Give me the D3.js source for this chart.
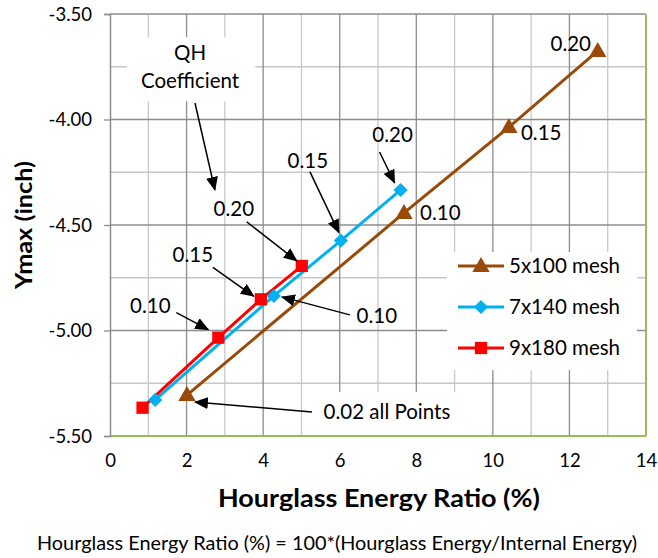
<!DOCTYPE html>
<html><head><meta charset="utf-8">
<script src="https://cdn.jsdelivr.net/npm/d3@7"></script>
<style>
body{margin:0;background:#fff}
svg text{font-family:Lato,"Open Sans",sans-serif;fill:#000}
</style>
</head><body>
<svg id="chart" width="658" height="558"></svg>
<script>
// ---- data ----
const coefficients = [0.02, 0.10, 0.15, 0.20];
const seriesNames = ["5x100 mesh", "7x140 mesh", "9x180 mesh"];
const x5x100 = [2.01, 7.68, 10.42, 12.74];
const y5x100 = [-5.306, -4.443, -4.036, -3.675];
const x7x140 = [1.18, 4.28, 6.03, 7.59];
const y7x140 = [-5.329, -4.836, -4.574, -4.334];
const x9x180 = [0.85, 2.83, 3.94, 5.01];
const y9x180 = [-5.366, -5.034, -4.852, -4.694];
const xTicks = [0, 2, 4, 6, 8, 10, 12, 14];
const yTicks = [-3.5, -4.0, -4.5, -5.0, -5.5];
const xTitle = "Hourglass Energy Ratio (%)";
const yTitle = "Ymax (inch)";
const note = "Hourglass Energy Ratio (%) = 100*(Hourglass Energy/Internal Energy)";

// ---- layout ----
const svg = d3.select("#chart");
const L = 110, R = 646, T = 14, B = 436;
const x = d3.scaleLinear().domain([0, 14]).range([L, R]);
const y = d3.scaleLinear().domain([-5.5, -3.5]).range([B, T]);
const colors = ["#9A4A08", "#00B0F0", "#FF0000"];
const shapes = [d3.symbolTriangle, d3.symbolSquare, d3.symbolSquare];
const sizes = [130, 100, 150];
const rot = [0, 45, 0];
const fmt = v => v.toFixed(2);

const series = seriesNames.map((n, i) => ({
  name: n, color: colors[i], shape: shapes[i], size: sizes[i], rot: rot[i],
  pts: [x5x100, x7x140, x9x180][i]
    .map((xv, j) => ({x: xv, y: [y5x100, y7x140, y9x180][i][j], c: coefficients[j]}))
}));

// gridlines
const g = svg.append("g");
g.selectAll(".vmin").data(d3.range(1, 14, 2)).join("line")
  .attr("x1", d => x(d)).attr("x2", d => x(d)).attr("y1", T).attr("y2", B)
  .attr("stroke", "#c8c8c8").attr("stroke-width", 1.3);
g.selectAll(".hmin").data(d3.range(-5.25, -3.5, 0.5)).join("line")
  .attr("y1", d => y(d)).attr("y2", d => y(d)).attr("x1", L).attr("x2", R)
  .attr("stroke", "#c8c8c8").attr("stroke-width", 1.3);
g.selectAll(".vmaj").data(xTicks.slice(1, -1)).join("line")
  .attr("x1", d => x(d)).attr("x2", d => x(d)).attr("y1", T).attr("y2", B)
  .attr("stroke", "#8c8c8c").attr("stroke-width", 1.3);
g.selectAll(".hmaj").data(yTicks.slice(0, -1)).join("line")
  .attr("y1", d => y(d)).attr("y2", d => y(d)).attr("x1", L).attr("x2", R)
  .attr("stroke", "#8c8c8c").attr("stroke-width", 1.3);
svg.append("line").attr("x1", R).attr("x2", R).attr("y1", T).attr("y2", B)
  .attr("stroke", "#9BBB59").attr("stroke-width", 2);
svg.append("line").attr("x1", L).attr("x2", R).attr("y1", B).attr("y2", B)
  .attr("stroke", "#9BBB59").attr("stroke-width", 2);

// y axis
const yAxis = svg.append("g").attr("transform", `translate(${L},0)`)
  .call(d3.axisLeft(y).tickValues(yTicks).tickFormat(fmt).tickSize(6).tickPadding(12));
yAxis.select(".domain").attr("stroke", "#8c8c8c").attr("stroke-width", 1.5);
yAxis.selectAll(".tick line").attr("stroke", "#8c8c8c").attr("stroke-width", 1.3);
yAxis.selectAll("text").style("font-size", "18.5px").attr("dy", "0.35em");

// x axis labels
const xAxis = svg.append("g").attr("transform", `translate(0,${B})`)
  .call(d3.axisBottom(x).tickValues(xTicks).tickSize(0).tickPadding(18));
xAxis.select(".domain").remove();
xAxis.selectAll("text").style("font-size", "18.5px");

// titles
svg.append("text").attr("x", 379).attr("y", 507).attr("text-anchor", "middle")
  .attr("textLength", 322).attr("lengthAdjust", "spacingAndGlyphs")
  .style("font-size", "24px").style("font-weight", "bold").text(xTitle);
svg.append("text").attr("transform", "translate(32,225) rotate(-90)").attr("text-anchor", "middle")
  .attr("textLength", 128).attr("lengthAdjust", "spacingAndGlyphs")
  .style("font-size", "23px").style("font-weight", "bold").text(yTitle);
svg.append("text").attr("x", 337).attr("y", 550).attr("text-anchor", "middle")
  .attr("textLength", 600).attr("lengthAdjust", "spacingAndGlyphs")
  .style("font-size", "19px").text(note);

// arrow marker
svg.append("defs").append("marker").attr("id", "ah")
  .attr("markerUnits", "userSpaceOnUse").attr("markerWidth", 14).attr("markerHeight", 12)
  .attr("viewBox", "0 0 14 12").attr("refX", 13).attr("refY", 6).attr("orient", "auto")
  .append("path").attr("d", "M0,0 L14,6 L0,12 Z").attr("fill", "#000");

// QH Coefficient box (data coordinates)
const qh = svg.append("g");
qh.append("rect").attr("x", x(0.45)).attr("y", y(-3.61)).attr("width", 128).attr("height", 64).attr("fill", "#fff");
qh.append("text").attr("x", x(2.09)).attr("y", y(-3.685)).attr("dy", "0.35em").attr("text-anchor", "middle")
  .style("font-size", "20.5px").text("QH");
qh.append("text").attr("x", x(2.09)).attr("y", y(-3.818)).attr("dy", "0.35em").attr("text-anchor", "middle")
  .style("font-size", "20.5px").text("Coefficient");
qh.append("line").attr("x1", x(2.22)).attr("y1", y(-3.922)).attr("x2", x(2.74)).attr("y2", y(-4.334))
  .attr("stroke", "#000").attr("stroke-width", 1.5).attr("marker-end", "url(#ah)");

// "0.02 all Points" box
svg.append("rect").attr("x", 316).attr("y", 392).attr("width", 140).attr("height", 43).attr("fill", "#fff");

// series lines & markers
series.forEach(s => {
  svg.append("path").datum(s.pts)
    .attr("d", d3.line().x(d => x(d.x)).y(d => y(d.y)))
    .attr("fill", "none").attr("stroke", s.color).attr("stroke-width", 3);
});
series.forEach(s => {
  svg.selectAll(null).data(s.pts).join("path")
    .attr("transform", d => `translate(${x(d.x)},${y(d.y) + (s.shape === d3.symbolTriangle ? 1 : 0)}) rotate(${s.rot})`)
    .attr("d", d3.symbol().type(s.shape).size(s.size)).attr("fill", s.color);
});

// annotations: [series, point, text dx, dy, anchor, arrow start dx, dy, tip dx, dy]
const ann = [
  [2, 1, -68, -32, "middle", -42, -25, -10, -8],
  [2, 2, -68, -44, "middle", -48, -32, -7, -3],
  [2, 3, -68, -57, "middle", -55, -44, -5, -5],
  [1, 1, 103, 20, "middle", 76, 19, 8, 1],
  [1, 2, -33, -80, "middle", -31, -69, -2, -8],
  [1, 3, -8, -55, "middle", -21, -38, -6, -7],
  [0, 1, 16, 0, "start"],
  [0, 2, 12, 6, "start"],
  [0, 3, -27, -7, "middle"]
];
ann.forEach(a => {
  const p = series[a[0]].pts[a[1]];
  const px = x(p.x), py = y(p.y);
  svg.append("text").attr("x", px + a[2]).attr("y", py + a[3]).attr("dy", "0.35em")
    .attr("text-anchor", a[4]).style("font-size", "20.5px").text(fmt(p.c));
  if (a.length > 5) {
    svg.append("line").attr("x1", px + a[5]).attr("y1", py + a[6]).attr("x2", px + a[7]).attr("y2", py + a[8])
      .attr("stroke", "#000").attr("stroke-width", 1.5).attr("marker-end", "url(#ah)");
  }
});
{
  const p = series[0].pts[0];
  const px = x(p.x), py = y(p.y);
  svg.append("text").attr("x", px + 200).attr("y", py + 17).attr("dy", "0.35em").attr("text-anchor", "middle")
    .style("font-size", "20.5px").text(fmt(p.c) + " all Points");
  svg.append("line").attr("x1", px + 125).attr("y1", py + 17).attr("x2", px + 8).attr("y2", py + 7)
    .attr("stroke", "#000").attr("stroke-width", 1.5).attr("marker-end", "url(#ah)");
}

// legend
const lg = svg.append("g");
lg.append("rect").attr("x", 447).attr("y", 252).attr("width", 190).attr("height", 118).attr("fill", "#fff");
series.forEach((s, i) => {
  const ly = 266 + i * 41;
  lg.append("line").attr("x1", 458).attr("x2", 504).attr("y1", ly).attr("y2", ly)
    .attr("stroke", s.color).attr("stroke-width", 3);
  lg.append("path").attr("transform", `translate(481,${ly + (i === 0 ? 1 : 0)}) rotate(${s.rot})`)
    .attr("d", d3.symbol().type(s.shape).size(s.size)).attr("fill", s.color);
  lg.append("text").attr("x", 509).attr("y", ly).attr("dy", "0.35em").style("font-size", "20.5px").text(s.name);
});
</script>
</body></html>
